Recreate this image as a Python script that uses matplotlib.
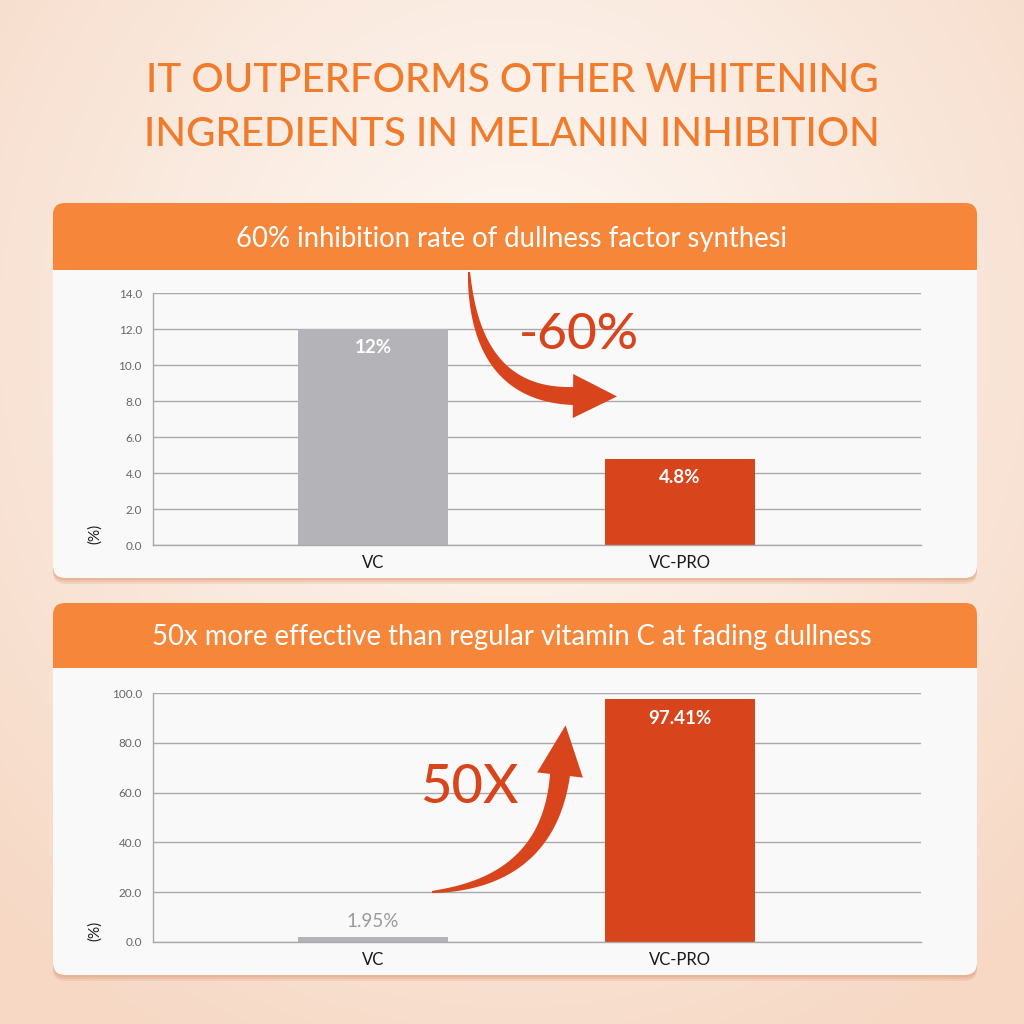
import numpy as np
import matplotlib.pyplot as plt
from matplotlib.patches import FancyBboxPatch, Rectangle, Polygon
from matplotlib.ticker import FormatStrFormatter

plt.rcParams['font.family'] = ['Lato', 'DejaVu Sans']

# ---- data ----
title_lines = ["IT OUTPERFORMS OTHER WHITENING", "INGREDIENTS IN MELANIN INHIBITION"]
categories = ['VC', 'VC-PRO']

header_1 = "60% inhibition rate of dullness factor synthesi"
inhibition_vals = [12.0, 4.8]
inhibition_ticks = [0, 2, 4, 6, 8, 10, 12, 14]

header_2 = "50x more effective than regular vitamin C at fading dullness"
fading_vals = [1.95, 97.41]
fading_ticks = [0, 20, 40, 60, 80, 100]

# ---- colours ----
ORANGE = '#f5863a'
TITLE_C = '#ef7b2b'
RED = '#d8441b'
GRAY_BAR = '#b4b4b8'
BODY = '#f9f9f9'
GRID = '#a9a9a9'


def tapered_arrow(ax, p0, p1, p2, w0, w1, head_w, head_l, color):
    p0, p1, p2 = np.array(p0, float), np.array(p1, float), np.array(p2, float)
    t = np.linspace(0, 1, 80)[:, None]
    pts = (1 - t) ** 2 * p0 + 2 * (1 - t) * t * p1 + t ** 2 * p2
    d = 2 * (1 - t) * (p1 - p0) + 2 * t * (p2 - p1)
    d = d / np.linalg.norm(d, axis=1, keepdims=True)
    n = np.column_stack([-d[:, 1], d[:, 0]])
    w = (w0 + (w1 - w0) * t[:, 0] ** 0.8)[:, None]
    left = pts + n * w / 2
    right = pts - n * w / 2
    T, N = d[-1], n[-1]
    head = [p2 + N * head_w / 2, p2 + T * head_l, p2 - N * head_w / 2]
    poly = np.vstack([left, head, right[::-1]])
    ax.add_patch(Polygon(poly, closed=True, fc=color, ec='none'))


fig = plt.figure(figsize=(10.24, 10.24), dpi=100)

# background
bg = fig.add_axes([0, 0, 1, 1], zorder=0)
yy, xx = np.mgrid[0:1024:4, 0:1024:4]
r = np.clip(np.sqrt(((xx - 512) / 760.0) ** 2 + ((yy - 330) / 820.0) ** 2), 0, 1)[..., None]
c_in = np.array([254, 250, 247]) / 255.0
c_out = np.array([246, 216, 196]) / 255.0
bg.imshow(c_in * (1 - r) + c_out * r, extent=(0, 1024, 1024, 0), aspect='auto')
bg.set_xlim(0, 1024)
bg.set_ylim(1024, 0)
bg.axis('off')

for k, line in enumerate(title_lines):
    bg.text(512, 80 + k * 54, line, ha='center', va='center', fontsize=29,
            color=TITLE_C, fontweight='medium')


def draw_card(top, head_bottom, bottom, text):
    x0, w = 53, 924
    for off, a in [(6, 0.25), (4, 0.35), (2, 0.45)]:
        bg.add_patch(FancyBboxPatch((x0, top + off), w, bottom - top,
                                    boxstyle='round,pad=0,rounding_size=12',
                                    fc='#e2a786', ec='none', alpha=a))
    bg.add_patch(FancyBboxPatch((x0, top), w, bottom - top,
                                boxstyle='round,pad=0,rounding_size=12',
                                fc=ORANGE, ec='none'))
    bg.add_patch(Rectangle((x0, head_bottom), w, 30, fc=BODY, ec='none'))
    bg.add_patch(FancyBboxPatch((x0, head_bottom), w, bottom - head_bottom,
                                boxstyle='round,pad=0,rounding_size=12',
                                fc=BODY, ec='none'))
    bg.text(512, (top + head_bottom) / 2 + 2, text, ha='center', va='center',
            fontsize=19.8, color='white')


draw_card(203, 270, 578, header_1)
draw_card(603, 668, 975, header_2)


def bar_chart(rect, vals, ticks, colors, inside):
    ax = fig.add_axes(rect, zorder=2)
    ax.patch.set_alpha(0)
    x = np.arange(len(categories))
    ax.bar(x, vals, width=0.49, color=colors, zorder=2)
    ax.set_xlim(-0.717, 1.785)
    ax.set_ylim(ticks[0], ticks[-1])
    ax.set_yticks(ticks)
    ax.yaxis.set_major_formatter(FormatStrFormatter('%.1f'))
    ax.set_xticks(x)
    ax.set_xticklabels(categories)
    ax.grid(axis='y', color=GRID, linewidth=1, zorder=0)
    ax.set_axisbelow(True)
    for s in ['top', 'right']:
        ax.spines[s].set_visible(False)
    for s in ['left', 'bottom']:
        ax.spines[s].set_color(GRID)
        ax.spines[s].set_linewidth(1)
    ax.tick_params(axis='y', length=0, pad=8, labelsize=8.5, labelcolor='#666666')
    ax.tick_params(axis='x', length=0, pad=7, labelsize=12, labelcolor='#1a1a1a')
    ax.set_ylabel('(%)', fontsize=11, color='#1a1a1a')
    ax.yaxis.set_label_coords(-0.066, 0.045)
    for i, v in enumerate(vals):
        lbl = f"{v:g}%"
        if inside[i]:
            ax.annotate(lbl, xy=(i, v), xytext=(0, -13.5), textcoords='offset points',
                        ha='center', va='center', fontsize=13.5, color='white',
                        fontweight='bold')
        else:
            ax.annotate(lbl, xy=(i, v), xytext=(0, 11), textcoords='offset points',
                        ha='center', va='center', fontsize=13.5, color='#9a9a9a')
    return ax


ax1 = bar_chart([153 / 1024, (1024 - 545) / 1024, 768 / 1024, 252 / 1024],
                inhibition_vals, inhibition_ticks, [GRAY_BAR, RED], [True, True])
ax2 = bar_chart([153 / 1024, (1024 - 942) / 1024, 768 / 1024, 249 / 1024],
                fading_vals, fading_ticks, [GRAY_BAR, RED], [False, True])

ax1.text(0.671, 11.67, '-60%', ha='center', va='center', fontsize=37,
         color=RED, fontweight='medium')
ax2.text(0.313, 62.2, '50X', ha='center', va='center', fontsize=39,
         color=RED, fontweight='medium')

# curved arrows overlay
ov = fig.add_axes([0, 0, 1, 1], zorder=3)
ov.patch.set_alpha(0)
ov.set_xlim(0, 1024)
ov.set_ylim(1024, 0)
ov.axis('off')
tapered_arrow(ov, (469, 272), (475, 395), (573, 396), 2, 18, 44, 44, RED)
tapered_arrow(ov, (432, 892), (548, 882), (560, 775), 2, 20, 46, 50, RED)

fig.savefig('out.png', dpi=100)
